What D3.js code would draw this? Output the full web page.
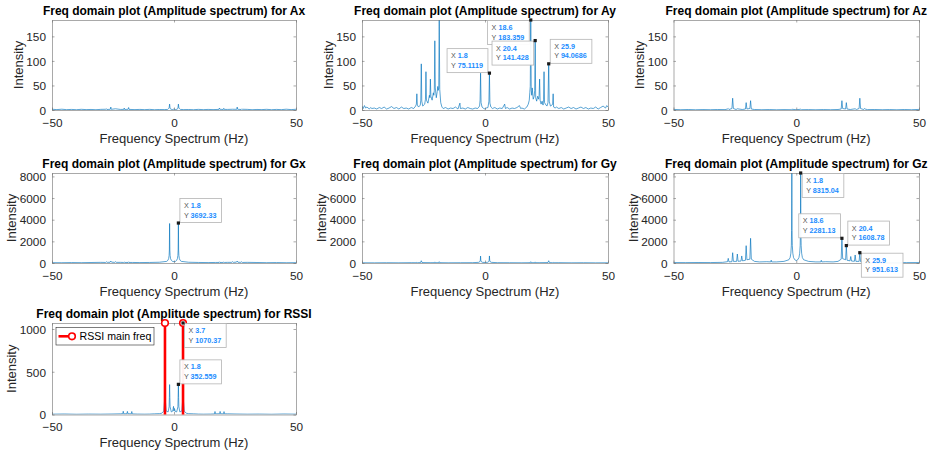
<!DOCTYPE html>
<html><head><meta charset="utf-8">
<script src="https://cdn.jsdelivr.net/npm/d3@7"></script>
<style>
body{margin:0;background:#fff}
svg{display:block}
text{font-family:"Liberation Sans",Arial,Helvetica,sans-serif}
</style>
</head><body>
<svg id="chart" width="937" height="455"></svg>
<script>
// ---------------- data ----------------
const xTicks = [-50, 0, 50];
const yTicksAcc = [0, 50, 100, 150];
const yTicksGyro = [0, 2000, 4000, 6000, 8000];
const yTicksRssi = [0, 500, 1000];
const yMaxAcc = 183.359, yMaxGyro = 8315.04, yMaxRssi = 1070.37;
const titlePrefix = "Freq domain plot (Amplitude spectrum) for ";
const xLabel = "Frequency Spectrum (Hz)";
const yLabel = "Intensity";

const spectrumAx = [[-50,1.5],[-48,0.8],[-46,1.6],[-44,0.7],[-42,1.2],[-40,0.6],[-38,1.4],[-36,0.8],[-34,1.1],[-32,0.6],[-30,1.3],[-28,1.5],[-27.7,2.5],[-27.5,1],[-26.1,1.5],[-25.9,6],[-25.7,1.4],[-24,2.5],[-22,1.2],[-20.6,1.2],[-20.4,4],[-20.2,1],[-18.8,1.5],[-18.6,5],[-18.4,1.2],[-16,0.8],[-14,1.2],[-12,0.7],[-10,1.3],[-8,0.6],[-6,1],[-4,0.8],[-2.6,1.2],[-2.2,3],[-2,4],[-1.8,12],[-1.6,3],[-1.2,1.5],[-0.6,1],[0,2],[0.6,1],[1.2,1.5],[1.6,3],[1.8,12],[2,4],[2.2,3],[2.6,1.2],[4,0.8],[6,1],[8,0.6],[10,1.3],[12,0.7],[14,1.2],[16,0.8],[18.4,1.2],[18.6,4],[18.8,1.5],[20.2,1],[20.4,3.5],[20.6,1.2],[22,1.2],[24,1.5],[25.7,1.4],[25.9,6],[26.1,1.5],[27.5,1],[27.7,2],[28,1.5],[30,1.3],[32,0.6],[34,1.1],[36,0.8],[38,1.4],[40,0.6],[42,1.2],[44,0.7],[46,1.6],[48,0.8],[50,1.5]];

const spectrumAy = [[-50,8],[-49.5,3],[-49,9],[-48.5,4],[-48,6],[-47,2],[-46.5,5],[-46,3],[-45,4],[-44,2],[-43,5],[-42,3],[-41,6],[-40,2],[-39,4],[-38,7],[-37,3],[-36,5],[-35,2],[-34,6],[-33,3],[-32,4],[-31,2],[-30,5],[-29,3],[-28.2,8],[-27.9,12],[-27.7,33],[-27.5,10],[-27,6],[-26.3,10],[-26.1,20],[-25.9,94],[-25.7,18],[-25.3,8],[-24.5,12],[-24.2,22],[-24.0,78],[-23.8,20],[-23.2,14],[-22.6,30],[-22.4,25],[-22.2,63],[-22.0,28],[-21.5,20],[-21.0,35],[-20.8,30],[-20.6,40],[-20.4,141],[-20.2,45],[-19.8,25],[-19.4,38],[-19.2,48],[-19.0,40],[-18.8,45],[-18.6,183.359],[-18.4,42],[-18.0,15],[-17.5,6],[-17,3],[-16,5],[-15,2],[-14,4],[-13,3],[-12,6],[-11,2],[-10.2,14],[-10,3],[-9,4],[-8,2],[-7,5],[-6,3],[-5,2],[-4,4],[-3,3],[-2.2,8],[-2.0,20],[-1.8,75],[-1.6,15],[-1.2,6],[-0.5,3],[0,2],[0.5,4],[1.2,5],[1.6,18],[1.8,75.1119],[2.0,14],[2.4,6],[3,3],[4,5],[5,2],[6,4],[7,3],[8,12],[8.3,3],[9,5],[10,2],[11,4],[12,3],[13,5],[14,9],[14.5,3],[15,4],[16,2],[17,6],[17.6,12],[18.0,20],[18.2,35],[18.4,48],[18.6,183.359],[18.8,40],[19.0,30],[19.2,45],[19.6,22],[20.0,28],[20.2,40],[20.4,141.428],[20.6,25],[21.0,18],[21.4,28],[21.8,22],[22.0,30],[22.2,63],[22.4,20],[22.8,12],[23.2,18],[23.6,10],[23.8,22],[24.0,78],[24.2,15],[24.8,10],[25.2,8],[25.6,15],[25.9,94.0686],[26.1,18],[26.6,8],[27.2,10],[27.5,12],[27.7,33],[27.9,6],[28.5,4],[29,6],[30,3],[31,5],[32,2],[33,4],[34,6],[35,3],[36,5],[37,2],[38,4],[39,6],[40,3],[41,5],[42,2],[43,4],[44,3],[45,6],[46,2],[47,5],[48,8],[49,4],[49.5,9],[50,6]];

const spectrumAz = [[-50,1.2],[-47,0.6],[-44,1],[-41,0.5],[-38,0.9],[-35,0.6],[-32,1],[-29,0.8],[-28,2],[-27.7,3],[-27.4,1],[-26.2,3],[-25.9,24],[-25.6,3],[-24.5,1],[-24,2.5],[-22,1],[-20.7,2],[-20.4,15],[-20.1,2],[-18.9,3],[-18.6,19],[-18.3,2],[-17,1],[-14,0.6],[-11,0.9],[-8,0.5],[-5,0.8],[-2,0.6],[-1.8,1.5],[0,0.6],[1.8,1.5],[2,0.6],[5,0.8],[8,0.5],[11,0.9],[14,0.6],[17,1],[18.3,2],[18.6,19],[18.9,3],[20.1,2],[20.4,15],[20.7,2],[22,1],[24,2.5],[24.5,1],[25.6,3],[25.9,24],[26.2,3],[27.4,1],[27.7,3],[28,2],[29,0.8],[32,1],[35,0.6],[38,0.9],[41,0.5],[44,1],[47,0.6],[50,1.2]];

const spectrumGx = [[-50,30],[-46,25],[-42,40],[-38,30],[-34,45],[-30,60],[-28,50],[-27.7,110],[-27.4,60],[-26.2,70],[-25.9,180],[-25.6,80],[-24.3,60],[-24,120],[-23.7,60],[-22,60],[-20.6,50],[-20.4,90],[-20.2,50],[-18.8,50],[-18.6,110],[-18.4,50],[-17,50],[-14,40],[-10,50],[-6,70],[-3.0,150],[-2.5,250],[-2.2,400],[-2.0,700],[-1.9,1200],[-1.8,3650],[-1.7,1200],[-1.6,700],[-1.4,400],[-1.1,250],[-0.6,150],[0,120],[0.6,150],[1.1,250],[1.4,400],[1.6,700],[1.7,1200],[1.8,3692.33],[1.9,1200],[2.0,700],[2.2,400],[2.5,250],[3.0,150],[6,70],[10,50],[14,40],[17,50],[18.4,50],[18.6,110],[18.8,50],[20.2,50],[20.4,90],[20.6,50],[22,60],[23.7,60],[24,120],[24.3,60],[25.6,80],[25.9,180],[26.2,70],[27.4,60],[27.7,110],[28,50],[30,60],[34,45],[38,30],[42,40],[46,25],[50,30]];

const spectrumGy = [[-50,20],[-45,15],[-40,25],[-35,18],[-30,30],[-28,25],[-27.7,60],[-27.4,25],[-26.2,40],[-25.9,210],[-25.6,40],[-22,30],[-20.6,30],[-20.4,100],[-20.2,30],[-18.8,30],[-18.6,120],[-18.4,30],[-15,20],[-10,25],[-5,30],[-2.6,60],[-2.1,120],[-1.9,250],[-1.8,640],[-1.7,250],[-1.5,120],[-1.0,60],[0,50],[1.0,60],[1.5,120],[1.7,250],[1.8,650],[1.9,250],[2.1,120],[2.6,60],[5,30],[10,25],[15,20],[18.4,30],[18.6,120],[18.8,30],[20.2,30],[20.4,100],[20.6,30],[22,30],[25.6,40],[25.9,210],[26.2,40],[27.4,25],[27.7,60],[28,25],[30,30],[35,18],[40,25],[45,15],[50,20]];

const spectrumGz = [[-50,40],[-45,35],[-40,45],[-35,40],[-30,60],[-28,120],[-27.7,430],[-27.4,100],[-26.2,120],[-25.9,950],[-25.6,150],[-24.3,150],[-24.0,830],[-23.7,160],[-22.5,180],[-22.2,650],[-21.9,200],[-20.7,250],[-20.4,1600],[-20.1,300],[-18.9,350],[-18.6,2281],[-18.3,350],[-17,150],[-15,100],[-12,120],[-10.4,100],[-10.2,260],[-10.0,100],[-8,100],[-5,150],[-3.0,300],[-2.5,500],[-2.2,900],[-2.0,1600],[-1.9,3000],[-1.8,8315],[-1.7,3000],[-1.6,1600],[-1.4,900],[-1.1,500],[-0.6,300],[0,220],[0.6,300],[1.1,500],[1.4,900],[1.6,1600],[1.7,3000],[1.8,8315.04],[1.9,3000],[2.0,1600],[2.2,900],[2.5,500],[3.0,300],[5,150],[8,100],[10.0,100],[10.2,250],[10.4,100],[12,120],[15,100],[17,150],[18.3,350],[18.6,2281.13],[18.9,400],[20.1,300],[20.4,1608.78],[20.7,250],[21.9,200],[22.2,600],[22.5,180],[23.7,160],[24.0,740],[24.3,150],[25.6,150],[25.9,951.613],[26.2,120],[27.4,100],[27.7,430],[28,120],[30,60],[35,40],[40,45],[45,35],[50,40]];

const spectrumRSSI = [[-50,4],[-45,6],[-40,3],[-35,5],[-30,4],[-25,6],[-22,8],[-21,10],[-20.8,38],[-20.6,8],[-19.3,9],[-19.1,36],[-18.9,9],[-17.5,8],[-17.3,35],[-17.1,7],[-15,5],[-12,4],[-10,5],[-8,8],[-6,10],[-5,15],[-4.2,40],[-3.9,150],[-3.8,400],[-3.7,1070.37],[-3.6,400],[-3.5,150],[-3.2,40],[-2.4,30],[-2.0,90],[-1.9,200],[-1.8,350],[-1.7,200],[-1.6,90],[-1.1,30],[-0.5,40],[-0.2,95],[0,40],[0.2,70],[0.5,35],[1.1,30],[1.6,90],[1.7,200],[1.8,352.559],[1.9,200],[2.0,90],[2.4,30],[3.2,40],[3.5,150],[3.6,400],[3.7,1070.37],[3.8,400],[3.9,150],[4.2,40],[5,15],[6,10],[8,8],[10,5],[12,4],[15,5],[16.6,7],[16.8,35],[17,8],[18.7,9],[18.9,36],[19.1,9],[20.3,8],[20.5,34],[20.7,8],[22,8],[25,6],[30,4],[35,5],[40,3],[45,6],[50,4]];

const rssiMainFreq = [-3.7, 3.7];
const rssiMainAmp = [1070.37, 1070.37];
const rssiLegendLabel = "RSSI main freq";

// data tips: [x, y]
const tipsAy = [[1.8,75.1119],[18.6,183.359],[20.4,141.428],[25.9,94.0686]];
const tipsGx = [[1.8,3692.33]];
const tipsGz = [[1.8,8315.04],[18.6,2281.13],[20.4,1608.78],[25.9,951.613]];
const tipsRSSI = [[3.7,1070.37],[1.8,352.559]];

// ---------------- layout ----------------
const cols = [[52,296],[362,608],[673.5,919]];
const rows = [[20,110],[173,263],[323,414.5]];
const lineColor = "#0072BD";
const axisColor = "#262626";

const panels = [
  {name:"Ax", data:spectrumAx, c:0, r:0, ymax:yMaxAcc, ticks:yTicksAcc, tips:[], dirs:[]},
  {name:"Ay", data:spectrumAy, c:1, r:0, ymax:yMaxAcc, ticks:yTicksAcc, tips:tipsAy, dirs:["nw","sw","sw","ne"]},
  {name:"Az", data:spectrumAz, c:2, r:0, ymax:yMaxAcc, ticks:yTicksAcc, tips:[], dirs:[]},
  {name:"Gx", data:spectrumGx, c:0, r:1, ymax:yMaxGyro, ticks:yTicksGyro, tips:tipsGx, dirs:["ne"]},
  {name:"Gy", data:spectrumGy, c:1, r:1, ymax:yMaxGyro, ticks:yTicksGyro, tips:[], dirs:[]},
  {name:"Gz", data:spectrumGz, c:2, r:1, ymax:yMaxGyro, ticks:yTicksGyro, tips:tipsGz, dirs:["se","nw","ne","se"]},
  {name:"RSSI", data:spectrumRSSI, c:0, r:2, ymax:yMaxRssi, ticks:yTicksRssi, tips:tipsRSSI, dirs:["se","ne"], stems:true}
];

const svg = d3.select("#chart");
const defs = svg.append("defs");

panels.forEach((p, i) => {
  const [x0, x1] = cols[p.c];
  const [y0, y1] = rows[p.r];
  const x = d3.scaleLinear().domain([-50, 50]).range([x0, x1]);
  const y = d3.scaleLinear().domain([0, p.ymax]).range([y1, y0]);
  const g = svg.append("g");

  defs.append("clipPath").attr("id", "clip" + i)
    .append("rect").attr("x", x0).attr("y", y0).attr("width", x1 - x0).attr("height", y1 - y0);

  // spectrum line
  const line = d3.line().x(d => x(d[0])).y(d => y(d[1]));
  g.append("path").datum(p.data)
    .attr("clip-path", `url(#clip${i})`)
    .attr("d", line).attr("fill", "none")
    .attr("stroke", lineColor).attr("stroke-width", 0.65).attr("stroke-linejoin", "round");

  // axes (MATLAB box style, ticks inside)
  const tl = 2.5;
  const axB = d3.axisBottom(x).tickValues(xTicks).tickSizeInner(-tl).tickSizeOuter(0).tickFormat(d3.format("d"));
  const axT = d3.axisTop(x).tickValues(xTicks).tickSizeInner(-tl).tickSizeOuter(0).tickFormat("");
  const axL = d3.axisLeft(y).tickValues(p.ticks).tickSizeInner(-tl).tickSizeOuter(0).tickFormat(d3.format("d"));
  const axR = d3.axisRight(y).tickValues(p.ticks).tickSizeInner(-tl).tickSizeOuter(0).tickFormat("");

  const gb = g.append("g").attr("transform", `translate(0,${y1})`).call(axB);
  const gt = g.append("g").attr("transform", `translate(0,${y0})`).call(axT);
  const gl = g.append("g").attr("transform", `translate(${x0},0)`).call(axL);
  const gr = g.append("g").attr("transform", `translate(${x1},0)`).call(axR);
  [gb, gt, gl, gr].forEach(a => {
    a.select(".domain").attr("stroke", "#6e6e6e").attr("stroke-width", 0.6);
    a.selectAll(".tick line").attr("stroke", "#6e6e6e").attr("stroke-width", 0.6);
    a.selectAll("text").attr("fill", axisColor).attr("font-size", 11.8)
      .attr("font-family", '"Liberation Sans",Arial,sans-serif');
  });
  gb.selectAll(".tick text").attr("y", 8.5).attr("dy", "0.71em");
  gl.selectAll(".tick text").attr("x", -6).attr("dy", "0.36em");

  // title
  svg.append("text").attr("x", (x0 + x1) / 2).attr("y", y0 - 5.5)
    .attr("text-anchor", "middle").attr("font-size", 12).attr("font-weight", "bold")
    .attr("fill", "#000").text(titlePrefix + p.name);
  // x label
  svg.append("text").attr("x", (x0 + x1) / 2).attr("y", y1 + 32.5)
    .attr("text-anchor", "middle").attr("font-size", 13).attr("fill", axisColor).text(xLabel);
  // y label
  const yl = p.r === 0 ? x0 - 29.5 : x0 - 36;
  svg.append("text").attr("transform", `translate(${yl},${(y0 + y1) / 2}) rotate(-90)`)
    .attr("text-anchor", "middle").attr("font-size", 13).attr("fill", axisColor).text(yLabel);

  // stems for RSSI main freq
  if (p.stems) {
    const sg = svg.append("g");
    rssiMainFreq.forEach((f, k) => {
      sg.append("line").attr("x1", x(f)).attr("x2", x(f)).attr("y1", y(0)).attr("y2", y(rssiMainAmp[k]))
        .attr("stroke", "#ff0000").attr("stroke-width", 2.6);
    });
    rssiMainFreq.forEach((f, k) => {
      sg.append("circle").attr("cx", x(f)).attr("cy", y(rssiMainAmp[k])).attr("r", 3.3)
        .attr("fill", "#fff").attr("stroke", "#ff0000").attr("stroke-width", 1.6);
    });
    // legend
    const lg = svg.append("g");
    lg.append("rect").attr("x", x0 + 4).attr("y", y0 + 4.5).attr("width", 98).attr("height", 17.5)
      .attr("fill", "#fff").attr("stroke", axisColor).attr("stroke-width", 0.6);
    const ly = y0 + 13.3;
    lg.append("line").attr("x1", x0 + 6.5).attr("x2", x0 + 20.5).attr("y1", ly).attr("y2", ly)
      .attr("stroke", "#ff0000").attr("stroke-width", 2.6);
    lg.append("circle").attr("cx", x0 + 20).attr("cy", ly).attr("r", 3.3)
      .attr("fill", "#fff").attr("stroke", "#ff0000").attr("stroke-width", 1.6);
    lg.append("text").attr("x", x0 + 27.5).attr("y", ly).attr("dy", "0.36em")
      .attr("font-size", 10.6).attr("fill", "#000").text(rssiLegendLabel);
  }

  // data tips
  p.tips.forEach((t, k) => {
    const dir = p.dirs[k];
    const px = x(t[0]), py = y(t[1]);
    const tg = svg.append("g");
    const rect = tg.append("rect");
    const t1 = tg.append("text").attr("font-size", 7.2).attr("fill", "#555");
    t1.append("tspan").text("X ");
    t1.append("tspan").attr("fill", "#1a8cff").attr("font-weight", "bold").text(String(t[0]));
    const t2 = tg.append("text").attr("font-size", 7.2).attr("fill", "#555");
    t2.append("tspan").text("Y ");
    t2.append("tspan").attr("fill", "#1a8cff").attr("font-weight", "bold").text(String(t[1]));
    const w = Math.max(t1.node().getComputedTextLength(), t2.node().getComputedTextLength()) + 9;
    const h = 24;
    const bx = dir.includes("e") ? px + 1.5 : px - w - 1.5;
    const by = dir.includes("n") ? py - h - 0.5 : py + 0.5;
    rect.attr("x", bx).attr("y", by).attr("width", w).attr("height", h)
      .attr("fill", "#fff").attr("fill-opacity", 0.95).attr("stroke", "#b4b4b4").attr("stroke-width", 0.8);
    t1.attr("x", bx + 4).attr("y", by + 9.5);
    t2.attr("x", bx + 4).attr("y", by + 19);
    tg.append("rect").attr("x", px - 1.6).attr("y", py - 1.6).attr("width", 3.2).attr("height", 3.2)
      .attr("fill", "#1a1a1a");
  });
});
</script>
</body></html>
